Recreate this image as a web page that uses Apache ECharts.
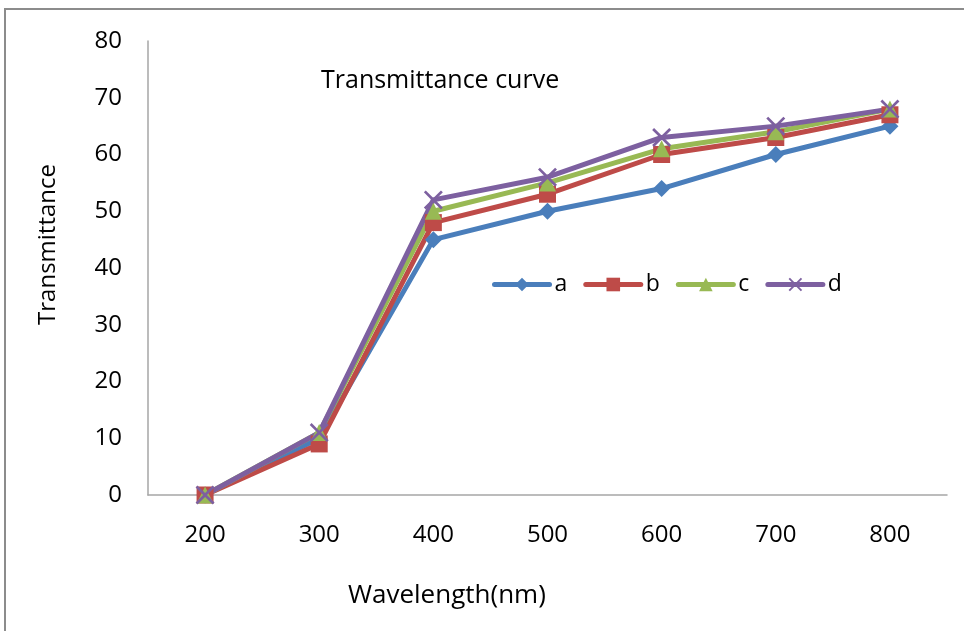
<!DOCTYPE html>
<html>
<head>
<meta charset="utf-8">
<script src="https://cdn.jsdelivr.net/npm/echarts@6/dist/echarts.min.js"></script>
<style>
  html, body { margin: 0; padding: 0; background: #fff; }
  #chart { width: 964px; height: 631px; }
</style>
</head>
<body>
<div id="chart"></div>
<script>
const wavelengths = ['200', '300', '400', '500', '600', '700', '800'];
const seriesA = [0, 10, 45, 50, 54, 60, 65];
const seriesB = [0, 9, 48, 53, 60, 63, 67];
const seriesC = [0, 11, 50, 55, 61, 64, 68];
const seriesD = [0, 11, 52, 56, 63, 65, 68];

const FONT = '"Open Sans", sans-serif';
const crossPath = 'path://M0,1L1,0L5,4L9,0L10,1L6,5L10,9L9,10L5,6L1,10L0,9L4,5Z';

const chart = echarts.init(document.getElementById('chart'));

function makeSeries(name, data, color, symbol, size) {
  return {
    name,
    type: 'line',
    data,
    symbol,
    symbolSize: size,
    lineStyle: { color, width: 5 },
    itemStyle: { color },
    emphasis: { disabled: true },
  };
}

chart.setOption({
  animation: false,
  textStyle: { fontFamily: FONT },
  graphic: [
    {
      type: 'polyline',
      shape: { points: [[5, 631], [5, 9], [964, 9]] },
      style: { stroke: '#8c8c8c', lineWidth: 2, fill: null },
    },
    {
      type: 'text',
      left: 321,
      top: 68,
      style: { text: 'Transmittance curve', fontSize: 25, fontFamily: FONT, fill: '#000' },
    },
    {
      type: 'text',
      left: 348,
      top: 583,
      style: { text: 'Wavelength(nm)', fontSize: 26, fontFamily: FONT, fill: '#000' },
    },
    {
      type: 'text',
      left: 36,
      top: 164,
      rotation: Math.PI / 2,
      originX: 0,
      originY: 0,
      style: { text: 'Transmittance', fontSize: 24, fontFamily: FONT, fill: '#000' },
    },
  ],
  legend: {
    left: 487,
    top: 268,
    itemWidth: 55,
    itemHeight: 17,
    itemGap: 16,
    lineStyle: { width: 5, cap: 'round' },
    textStyle: { fontSize: 23, color: '#000', fontFamily: FONT },
    data: ['a', 'b', 'c', 'd'],
  },
  grid: { left: 148, right: 17, top: 41, bottom: 136 },
  xAxis: {
    type: 'category',
    data: wavelengths,
    boundaryGap: true,
    axisLine: { lineStyle: { color: '#a6a6a6', width: 1.5 } },
    axisTick: { show: false },
    axisLabel: { fontSize: 24, color: '#000', margin: 28 },
  },
  yAxis: {
    type: 'value',
    min: 0,
    max: 80,
    interval: 10,
    axisLine: { show: true, lineStyle: { color: '#a6a6a6', width: 1.5 } },
    axisTick: { show: false },
    splitLine: { show: false },
    axisLabel: { fontSize: 24, color: '#000', margin: 26 },
  },
  series: [
    makeSeries('a', seriesA, '#4a7ebb', 'diamond', 17),
    makeSeries('b', seriesB, '#be4b48', 'rect', 17),
    makeSeries('c', seriesC, '#98b954', 'triangle', 17),
    makeSeries('d', seriesD, '#7d60a0', crossPath, 19),
  ],
});
</script>
</body>
</html>
